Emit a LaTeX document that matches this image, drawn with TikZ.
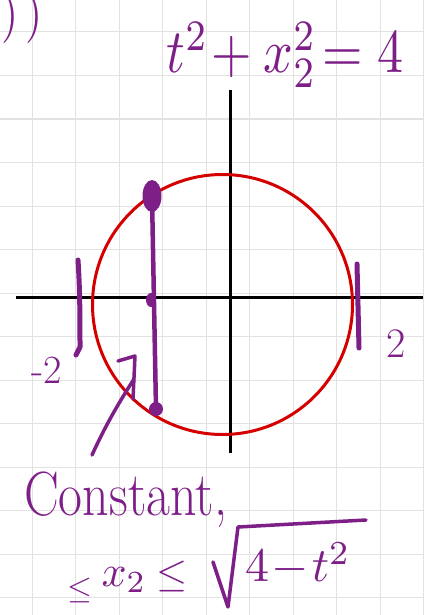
\documentclass[tikz,border=0pt]{standalone}
\usepackage{amsmath}
\usepackage{fontspec}
\usetikzlibrary{shapes.geometric}
\definecolor{pen}{HTML}{7E1F88}
\definecolor{ring}{HTML}{D40000}
\definecolor{gridc}{HTML}{E2E2E2}
\tikzset{
  inkline/.style={draw=pen, line width=4pt, line cap=round, line join=round},
  ink/.style={text=pen, inner sep=0pt},
  dotmark/.style={fill=pen, draw=none},
  axisline/.style={draw=black, line width=3pt},
}
\begin{document}
\begin{tikzpicture}[x=1pt,y=-1pt]
\useasboundingbox (0,0) rectangle (423,615);
% grid
\foreach \k in {0,...,9} \draw[gridc, line width=1pt] ({32+43.5*\k},0) -- ({32+43.5*\k},615);
\foreach \k in {0,...,13} \draw[gridc, line width=1pt] (0,{32+43.5*\k}) -- (423,{32+43.5*\k});
% axes
\coordinate (xl) at (16,297);
\coordinate (xr) at (423,297);
\coordinate (yt) at (230,90);
\coordinate (yb) at (230,453);
\draw[axisline] (xl) -- (xr);
\draw[axisline] (yt) -- (yb);
% circle
\node[draw=ring, line width=3pt, circle, minimum size=260pt, inner sep=0pt] (circ) at (222.5,304.5) {};
% tick marks at -2 and 2
\coordinate (tl1) at (78,260);
\coordinate (tl2) at (80,347);
\coordinate (tl3) at (76,355);
\draw[inkline, line width=5pt] (tl1) .. controls (80,290) and (80,320) .. (tl2) -- (tl3);
\coordinate (tr1) at (357,264);
\coordinate (tr2) at (359,348);
\draw[inkline, line width=5pt] (tr1) -- (tr2);
% purple segment with dots
\node[dotmark, ellipse, minimum width=19pt, minimum height=32pt, inner sep=0pt] (top) at (152,196) {};
\node[dotmark, ellipse, minimum width=10pt, minimum height=14pt, inner sep=0pt] (mid) at (151,300) {};
\node[dotmark, circle, minimum size=14pt, inner sep=0pt] (bot) at (156,409) {};
\draw[inkline, line width=4.5pt] (top.center) -- (bot.center);
% labels -2 and 2
\node[ink, font=\fontsize{40}{40}\selectfont] (m2) at (47,370) {-2};
\node[ink, font=\fontsize{42}{42}\selectfont] (p2) at (396,344) {2};
% arrow pointing to segment
\coordinate (atail) at (92,455);
\coordinate (ahead) at (134,379);
\coordinate (abar) at (118,361);
\coordinate (atop) at (135,356);
\coordinate (adown) at (133,399);
\draw[inkline, line width=3.5pt] (atail) .. controls (108,420) and (122,398) .. (ahead);
\draw[inkline, line width=3.5pt] (abar) -- (atop) -- (adown);
% header
\node[ink, anchor=west] (brk) at (1,18) {\scalebox{4.4}[5.2]{$)\,)$}};
\node[ink] (eq) at (285,55) {\scalebox{5.2}[6.2]{$t^2\!+x_2^2\!=4$}};
% bottom text
\node[ink, font=\fontsize{50}{50}\selectfont, anchor=base west] (const) at (24,515) {\scalebox{1.04}[1.25]{Constant,}};
\node[ink] (le1) at (80,590) {\scalebox{3.2}{$\le$}};
\node[ink] (x2) at (124,580) {\scalebox{4.4}{$x_2$}};
\node[ink] (le2) at (172,576) {\scalebox{4.0}{$\le$}};
\node[ink] (rad) at (298,564) {\scalebox{4.8}{$4\!-\!t^2$}};
\coordinate (r1) at (213,562);
\coordinate (r2) at (228,607);
\coordinate (r3) at (238,527);
\coordinate (r4) at (366,520);
\draw[inkline, line width=3.5pt] (r1) -- (r2) -- (r3) -- (r4);
\end{tikzpicture}
\end{document}
